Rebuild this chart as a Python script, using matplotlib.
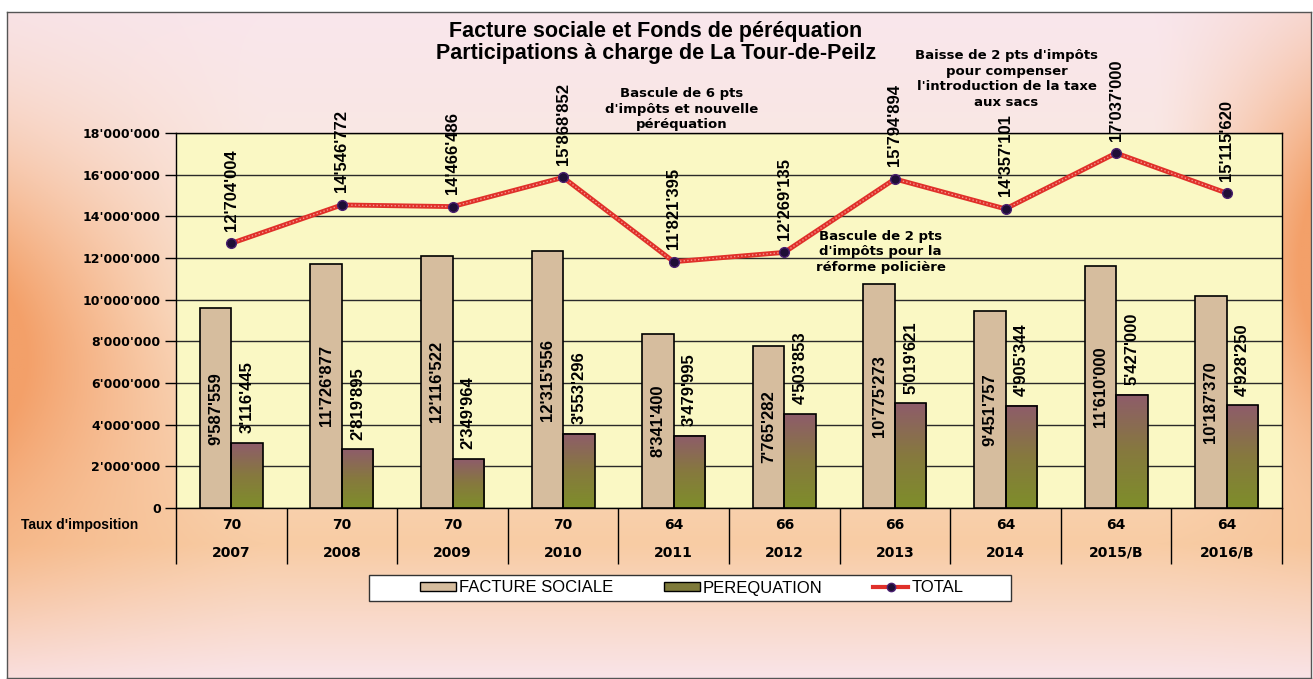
import numpy as np
import matplotlib.pyplot as plt
from matplotlib.patches import Rectangle, Patch
from matplotlib.lines import Line2D
from matplotlib.colors import LinearSegmentedColormap
from matplotlib.ticker import FuncFormatter

years = ['2007', '2008', '2009', '2010', '2011', '2012', '2013', '2014', '2015/B', '2016/B']
taux = [70, 70, 70, 70, 64, 66, 66, 64, 64, 64]
facture = [9587559, 11726877, 12116522, 12315556, 8341400, 7765282, 10775273, 9451757, 11610000, 10187370]
perequation = [3116445, 2819895, 2349964, 3553296, 3479995, 4503853, 5019621, 4905344, 5427000, 4928250]
total = [12704004, 14546772, 14466486, 15868852, 11821395, 12269135, 15794894, 14357101, 17037000, 15115620]

notes = ["Bascule de 6 pts\nd'impôts et nouvelle\npéréquation",
         "Bascule de 2 pts\nd'impôts pour la\nréforme policière",
         "Baisse de 2 pts d'impôts\npour compenser\nl'introduction de la taxe\naux sacs"]
note_x = [4.07, 5.87, 7.01]
note_y = [19.13e6, 12.29e6, 20.6e6]

W, H = 1313, 679
fig = plt.figure(figsize=(W / 100, H / 100), dpi=100)

# background gradient inside the outer frame
bg = fig.add_axes([7 / W, 1 / H, 1304 / W, 666 / H])
yy, xx = np.mgrid[0:1:300j, 0:1:600j]
stops = np.array([0, 0.45, 0.8, 1.0])
cols = np.array([[249, 230, 236], [251, 233, 216], [248, 204, 164], [250, 228, 232]]) / 255
base = np.stack([np.interp(yy, stops, cols[:, k]) for k in range(3)], axis=-1)
lw_ = np.clip(1 - xx / 0.2, 0, 1) ** 1.3 * np.exp(-((yy - 0.52) / 0.3) ** 2)
rw_ = np.clip((xx - 0.88) / 0.12, 0, 1) ** 1.3 * np.exp(-((yy - 0.38) / 0.3) ** 2)
w = np.clip(1.1 * (lw_ + rw_), 0, 1)[..., None]
orange = np.array([243, 160, 105]) / 255
bg.imshow(base * (1 - w) + orange * w, aspect='auto', extent=[0, 1, 0, 1], origin='upper')
bg.set_xticks([])
bg.set_yticks([])
for s in bg.spines.values():
    s.set_color('#555555')
    s.set_linewidth(1)

ax = fig.add_axes([176 / W, 1 - 508 / H, 1106 / W, 375 / H])
ax.set_facecolor('#FAF8C4')
x = np.arange(len(years))
bw = 0.285

ax.bar(x - bw / 2, facture, bw, color='#D6BD9E', edgecolor='black', linewidth=1.2, zorder=3)

cmap = LinearSegmentedColormap.from_list('pq', ['#7E8E2A', '#86793E', '#8E5C6A'])
grad = np.linspace(0, 1, 100).reshape(-1, 1)
for xi, v in zip(x, perequation):
    ax.imshow(grad, extent=[xi, xi + bw, 0, v], origin='lower', aspect='auto', cmap=cmap, zorder=2)
ax.bar(x + bw / 2, perequation, bw, facecolor='none', edgecolor='black', linewidth=1.2, zorder=3)

ax.plot(x, total, color='#E0302A', lw=3.5, zorder=4, solid_capstyle='round')
ax.plot(x, total, color='#F49A90', lw=1.0, ls=(0, (1, 1.6)), zorder=4)
ax.plot(x, total, 'o', ms=7, mfc='#1E0E36', mec='#4A2070', mew=1, zorder=5)

fmt = lambda v: f"{int(v):,}".replace(',', "'")
lab_font = dict(family='Liberation Sans', weight='bold', size=12)
for xi, v in zip(x, facture):
    ax.text(xi - bw / 2, v / 2, fmt(v), rotation=90, ha='center', va='center', zorder=6, **lab_font)
for xi, v in zip(x, perequation):
    ax.annotate(fmt(v), (xi + bw / 2, v), xytext=(0, 7), textcoords='offset points',
                rotation=90, ha='center', va='bottom', zorder=6, **lab_font)
for xi, v in zip(x, total):
    ax.annotate(fmt(v), (xi, v), xytext=(0, 9), textcoords='offset points',
                rotation=90, ha='center', va='bottom', zorder=6, **lab_font)

for t, nx, ny in zip(notes, note_x, note_y):
    ax.text(nx, ny, t, ha='center', va='center', family='DejaVu Sans', weight='bold',
            size=9.5, linespacing=1.25, clip_on=False, zorder=6)

ax.set_xlim(-0.5, len(years) - 0.5)
ax.set_ylim(0, 18e6)
ax.set_yticks(np.arange(0, 18e6 + 1, 2e6))
ax.yaxis.set_major_formatter(FuncFormatter(lambda v, p: fmt(v)))
ax.grid(axis='y', color='#2a2a2a', lw=1)
ax.set_axisbelow(True)
ax.tick_params(axis='y', direction='out', length=8, width=1, pad=3)
for lbl in ax.get_yticklabels():
    lbl.set_fontfamily('DejaVu Sans')
    lbl.set_fontweight('bold')
    lbl.set_fontsize(9)
ax.set_xticks(np.arange(-0.5, len(years), 1))
ax.set_xticklabels([])
ax.tick_params(axis='x', direction='out', length=40, width=1)
for s in ax.spines.values():
    s.set_color('black')
    s.set_linewidth(1)

tr = ax.get_xaxis_transform()
for xi, tx, yr in zip(x, taux, years):
    ax.text(xi, -0.045, str(tx), transform=tr, ha='center', va='center',
            family='DejaVu Sans', weight='bold', size=10)
    ax.text(xi, -0.12, yr, transform=tr, ha='center', va='center',
            family='DejaVu Sans', weight='bold', size=10)
fig.text(21 / W, 1 - 525 / H, "Taux d'imposition", ha='left', va='center',
         family='Liberation Sans', weight='bold', size=10)

fig.text(656 / W, 1 - 31 / H, "Facture sociale et Fonds de péréquation", ha='center', va='center',
         family='Liberation Sans', weight='bold', size=15.5)
fig.text(656 / W, 1 - 53 / H, "Participations à charge de La Tour-de-Peilz", ha='center', va='center',
         family='Liberation Sans', weight='bold', size=15.5)

fig.add_artist(Rectangle((369 / W, 1 - 601 / H), 642 / W, 26 / H, transform=fig.transFigure,
                         facecolor='white', edgecolor='#333333', lw=1, zorder=1))
handles = [Patch(facecolor='#D6BD9E', edgecolor='black'),
           Patch(facecolor='#7E7A3A', edgecolor='black'),
           Line2D([], [], color='#E0302A', lw=3, marker='o', ms=6, mfc='#1E0E36', mec='#4A2070')]
leg = fig.legend(handles, ['FACTURE SOCIALE', 'PEREQUATION', 'TOTAL'], loc='center',
                 bbox_to_anchor=(692 / W, 1 - 588 / H), ncol=3, frameon=False,
                 prop=dict(family='Liberation Sans', size=12), handlelength=2.15,
                 handleheight=0.5, handletextpad=0.2, columnspacing=3.0)
leg.set_zorder(2)

fig.savefig('out.png', dpi=100)
